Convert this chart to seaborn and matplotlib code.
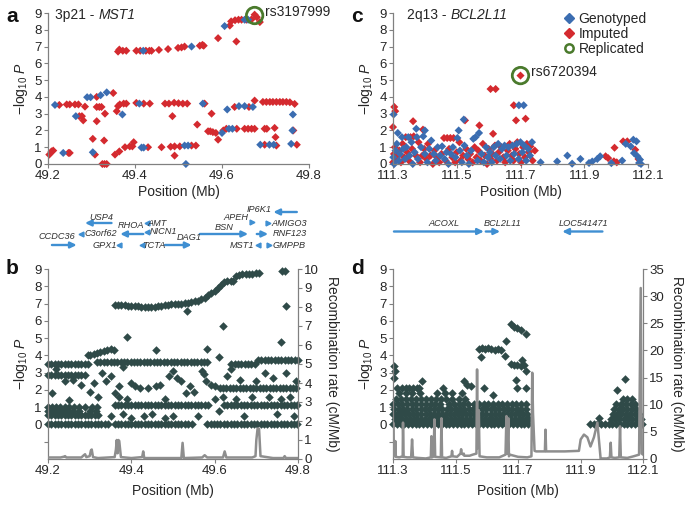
import matplotlib
matplotlib.use('Agg')
import matplotlib.pyplot as plt
import seaborn as sns
import pandas as pd
from matplotlib.lines import Line2D

# ---------------- DATA ----------------
# Panel a (3p21 - MST1): (position Mb, -log10 P)
a_imputed = [(49.203,0.56),(49.208,0.75),(49.212,0.80),(49.247,0.66),(49.250,0.66),
    (49.226,3.52),(49.243,3.55),(49.250,3.55),(49.262,3.55),(49.270,3.55),(49.285,3.42),
    (49.272,2.85),(49.278,2.85),(49.281,2.60),(49.312,4.00),(49.350,4.23),
    (49.312,3.40),(49.318,3.40),(49.323,3.40),(49.312,2.55),(49.331,3.00),(49.358,3.15),
    (49.303,1.50),(49.308,0.56),(49.329,1.40),(49.325,0.00),(49.330,0.00),(49.335,0.00),
    (49.354,0.56),(49.364,0.75),(49.377,1.00),(49.388,1.05),(49.394,1.05),(49.397,1.30),
    (49.430,1.00),(49.461,1.00),(49.482,1.03),(49.491,1.05),(49.503,1.05),(49.530,1.10),
    (49.540,1.10),(49.491,0.50),
    (49.361,3.45),(49.365,3.55),(49.374,3.60),(49.380,3.60),(49.403,3.64),(49.420,3.60),
    (49.434,3.60),(49.469,3.60),(49.478,3.60),(49.490,3.65),(49.500,3.62),(49.510,3.60),
    (49.520,3.60),(49.560,3.60),(49.576,3.00),(49.486,2.85),
    (49.361,6.70),(49.364,6.82),(49.372,6.75),(49.380,6.75),(49.403,6.75),(49.412,6.75),
    (49.425,6.75),(49.433,6.75),(49.438,6.75),(49.455,6.80),(49.476,6.85),(49.499,6.92),
    (49.507,6.95),(49.514,7.00),(49.549,7.05),(49.555,7.10),(49.558,7.05),
    (49.591,7.50),(49.633,7.30),
    (49.618,8.25),(49.621,8.50),(49.630,8.57),(49.638,8.60),(49.645,8.60),(49.656,8.60),
    (49.668,8.62),(49.675,8.90),(49.680,8.75),(49.687,8.46),
    (49.543,2.35),(49.568,1.95),(49.573,1.95),(49.579,1.90),(49.586,1.85),(49.591,1.45),
    (49.603,2.00),(49.610,2.10),(49.634,2.10),(49.652,2.10),(49.660,2.10),(49.668,2.10),
    (49.675,2.10),(49.698,2.10),(49.703,2.10),(49.721,2.15),(49.723,1.60),(49.764,2.00),
    (49.629,3.40),(49.662,3.40),(49.675,3.78),(49.694,3.70),(49.702,3.70),(49.710,3.70),
    (49.717,3.70),(49.725,3.70),(49.733,3.70),(49.740,3.70),(49.748,3.70),(49.756,3.68),
    (49.767,3.58),(49.698,1.15),(49.725,1.10),(49.772,1.15)]
a_genotyped = [(49.235,0.66),(49.216,3.52),(49.264,2.85),(49.290,3.98),(49.298,3.98),
    (49.321,4.10),(49.335,4.27),(49.371,2.95),(49.303,0.70),(49.415,0.98),(49.420,0.98),
    (49.514,1.10),(49.522,1.10),(49.517,0.00),(49.410,3.60),(49.556,3.60),(49.419,6.75),
    (49.530,7.00),(49.606,8.22),(49.652,8.60),(49.660,8.60),(49.600,1.85),(49.616,2.10),
    (49.624,2.10),(49.612,3.25),(49.639,3.45),(49.652,3.45),(49.671,3.40),(49.763,2.95),
    (49.762,2.00),(49.688,1.15),(49.709,1.15),(49.719,1.15),(49.759,1.20)]
a_replicated = (49.675, 8.85)

# Panel c (2q13 - BCL2L11)
c_imputed = [(111.304,3.40),(111.307,3.15),(111.300,2.20),(111.363,2.55),(111.394,2.05),
    (111.606,4.47),(111.622,4.47),(111.679,3.50),(111.686,2.60),(111.716,2.70),(111.614,1.80),
    (111.571,2.30),(111.526,2.60),(111.731,1.05),(111.967,0.46),(111.975,0.35),(111.993,0.16),
    (111.995,0.97),(112.002,0.10),(112.022,1.35),(112.035,1.35),(112.060,0.85),(112.070,0.30),
    (111.300,0.10),(111.303,0.60),(111.306,1.00),(111.310,0.30),(111.315,0.50),(111.320,0.80),
    (111.325,0.10),(111.330,1.20),(111.335,0.40),(111.340,1.60),(111.345,0.70),(111.350,0.20),
    (111.355,1.60),(111.360,0.90),(111.365,1.65),(111.372,0.50),(111.380,1.30),(111.385,0.10),
    (111.392,0.50),(111.398,0.90),(111.405,0.30),(111.410,1.20),(111.418,0.50),(111.425,0.00),
    (111.430,0.80),(111.438,0.40),(111.445,0.10),(111.452,0.60),(111.460,1.55),(111.465,0.20),
    (111.470,1.55),(111.476,0.90),(111.480,1.55),(111.486,0.40),(111.490,1.55),(111.495,0.10),
    (111.500,0.70),(111.508,1.30),(111.512,0.20),(111.520,0.50),(111.530,0.90),(111.536,0.30),
    (111.542,0.60),(111.550,0.10),(111.556,1.00),(111.562,0.40),(111.568,0.80),(111.575,0.20),
    (111.582,1.20),(111.588,0.50),(111.595,0.00),(111.600,0.90),(111.606,0.30),(111.612,0.60),
    (111.620,1.10),(111.626,0.20),(111.632,0.70),(111.640,1.00),(111.646,0.40),(111.652,0.10),
    (111.660,0.80),(111.666,1.20),(111.672,0.50),(111.678,0.20),(111.684,0.90),(111.690,1.30),
    (111.696,0.60),(111.702,0.10),(111.708,1.00),(111.714,0.40),(111.720,1.20),(111.726,0.70),
    (111.738,0.20),(111.745,0.80),(111.700,5.27)]
c_genotyped = [(111.302,2.95),(111.315,1.85),(111.373,2.10),(111.400,2.00),(111.506,2.00),
    (111.522,2.65),(111.559,1.60),(111.570,1.85),(111.695,3.50),(111.710,3.50),(111.763,0.10),
    (111.815,0.15),(111.847,0.50),(111.862,0.02),(111.888,0.30),(111.915,0.06),(111.925,0.15),
    (111.941,0.30),(111.950,0.46),(111.985,0.05),(112.019,0.20),(112.030,1.20),(112.046,1.05),
    (112.054,1.45),(112.064,1.35),(112.056,0.65),(112.067,0.46),(112.072,0.06),(112.075,0.26),
    (112.078,0.00),
    (111.301,0.40),(111.304,0.00),(111.308,0.80),(111.312,1.20),(111.318,0.20),(111.322,0.60),
    (111.328,1.60),(111.332,0.90),(111.338,0.30),(111.342,1.00),(111.348,1.60),(111.352,0.50),
    (111.358,1.30),(111.362,0.00),(111.368,0.70),(111.375,1.60),(111.378,0.30),(111.388,1.00),
    (111.395,1.65),(111.400,0.60),(111.408,0.10),(111.414,0.90),(111.420,1.40),(111.428,0.60),
    (111.434,0.20),(111.440,1.00),(111.448,0.50),(111.454,1.05),(111.462,0.30),(111.468,0.70),
    (111.474,0.00),(111.482,0.60),(111.488,1.00),(111.496,0.40),(111.502,1.55),(111.510,0.80),
    (111.516,0.10),(111.524,1.10),(111.532,0.50),(111.538,0.00),(111.545,0.80),(111.552,1.50),
    (111.565,0.20),(111.578,0.60),(111.585,0.10),(111.592,1.00),(111.598,0.40),(111.604,0.70),
    (111.610,0.10),(111.616,1.00),(111.622,0.50),(111.630,1.20),(111.636,0.30),(111.642,0.90),
    (111.650,1.10),(111.656,0.50),(111.662,1.00),(111.668,0.20),(111.675,1.10),(111.680,0.60),
    (111.688,1.20),(111.694,0.30),(111.700,1.30),(111.706,0.70),(111.712,1.10),(111.718,0.20),
    (111.724,0.90),(111.730,0.50),(111.736,1.30)]
c_replicated = (111.700, 5.27)

# Panel b (all SNPs, 3p21): rows of SNPs at near-constant -log10 P, plus scattered SNPs
b_row_000 = [49.200,49.208,49.216,49.224,49.232,49.240,49.248,49.256,49.264,49.272,49.280,
    49.288,49.296,49.304,49.312,49.320,49.328,49.336,49.344,49.360,49.368,49.376,49.384,
    49.392,49.400,49.408,49.416,49.424,49.432,49.440,49.448,49.456,49.464,49.472,49.480,
    49.488,49.496,49.504,49.512,49.520,49.528,49.536,49.545,49.582,49.590,49.598,49.606,
    49.614,49.622,49.630,49.638,49.646,49.654,49.662,49.670,49.678,49.686,49.694,49.702,
    49.710,49.718,49.726,49.734,49.742,49.750,49.758,49.766,49.774,49.782,49.790,49.798]
b_row_055 = [49.200,49.208,49.216,49.224,49.232,49.240,49.248,49.256,49.264,49.272,49.280,
    49.288,49.296,49.304,49.312,49.320]
b_row_080 = [49.200,49.212,49.224,49.236,49.248,49.260,49.275,49.300,49.315]
b_row_100 = [49.200,49.210,49.220,49.230,49.240,49.250,49.262,49.275,49.290,49.305,49.318]
b_row_110 = [49.360,49.368,49.376,49.384,49.392,49.400,49.408,49.416,49.424,49.432,49.440,
    49.448,49.456,49.464,49.472,49.480,49.488,49.496,49.504,49.512,49.520,49.528,49.536,
    49.544,49.552,49.560,49.568,49.576,49.584]
b_row_115 = [49.622,49.630,49.638,49.646,49.654,49.662,49.670,49.678,49.686,49.694,49.702,
    49.710,49.718,49.726,49.734,49.742,49.750,49.758,49.766,49.774,49.782,49.790,49.798]
b_row_215 = [49.612,49.620,49.628,49.636,49.644,49.652,49.660,49.668,49.676,49.684,49.692,
    49.700,49.708,49.716,49.724,49.732,49.740,49.748,49.756,49.764,49.772,49.780,49.788,49.796]
b_row_290 = [49.200,49.208,49.216,49.224,49.232,49.240,49.248,49.256,49.264,49.272,49.280,49.288]
b_row_355 = [49.200,49.208,49.216,49.224,49.232,49.240,49.248,49.256,49.264,49.272,49.280,
    49.288,49.296]
b_row_365 = [49.318,49.326,49.334,49.342,49.350,49.358,49.366,49.374,49.382,49.390,49.398,
    49.406,49.414,49.422,49.430,49.438,49.446,49.454,49.462,49.470,49.478,49.486,49.494,
    49.502,49.510,49.518,49.526,49.534,49.542,49.550,49.558,49.566,49.574,49.582]
b_row_350 = [49.640,49.648,49.656,49.664,49.672,49.680,49.688,49.696]
b_row_372 = [49.704,49.712,49.720,49.728,49.736,49.744,49.752,49.760,49.768,49.776,49.784,
    49.792,49.800]
b_curve = [(49.295,4.00),(49.302,4.05),(49.310,4.10),(49.318,4.15),(49.326,4.20),(49.334,4.28),
    (49.342,4.33),(49.350,4.35),(49.358,4.30),
    (49.360,6.90),(49.368,6.90),(49.376,6.90),(49.384,6.90),(49.392,6.88),(49.400,6.86),
    (49.408,6.85),(49.416,6.83),(49.424,6.80),(49.432,6.78),(49.440,6.78),(49.448,6.80),
    (49.456,6.82),(49.464,6.85),(49.472,6.87),(49.480,6.90),(49.488,6.92),(49.496,6.95),
    (49.504,6.97),(49.512,7.00),(49.520,7.00),(49.528,7.03),(49.536,7.05),(49.544,7.08),
    (49.552,7.12),(49.560,7.17),(49.568,7.25),(49.576,7.35),(49.584,7.48),(49.592,7.60),
    (49.600,7.75),(49.608,7.92),(49.616,8.10),(49.622,8.22),(49.630,8.28),(49.638,8.30),
    (49.645,8.30),(49.650,8.60),(49.658,8.65),(49.666,8.70),(49.674,8.72),(49.682,8.72),
    (49.690,8.73),(49.698,8.75),(49.706,8.78)]
b_scatter = [(49.390,5.05),(49.460,4.30),(49.581,4.35),(49.610,3.90),(49.621,5.70),
    (49.533,6.55),(49.761,8.88),(49.769,8.88),(49.771,6.85),(49.758,4.80),
    (49.210,1.80),(49.250,1.40),(49.220,3.20),(49.240,2.50),(49.260,2.60),(49.280,2.30),
    (49.300,1.90),(49.310,2.40),(49.320,1.60),(49.330,3.00),(49.340,2.50),(49.350,2.80),
    (49.360,1.80),(49.370,2.20),(49.380,3.30),(49.400,2.40),(49.410,2.20),(49.420,2.10),
    (49.440,2.10),(49.460,2.20),(49.470,2.30),(49.480,1.50),(49.490,2.80),(49.500,3.10),
    (49.510,2.70),(49.520,2.50),(49.530,1.80),(49.540,2.20),(49.550,1.90),(49.560,0.50),
    (49.570,3.10),(49.575,2.90),(49.580,2.50),(49.590,2.30),(49.600,2.20),(49.600,1.50),
    (49.610,0.80),(49.620,1.60),(49.630,2.80),(49.640,3.20),(49.650,1.50),(49.660,2.60),
    (49.670,0.50),(49.690,1.60),(49.700,2.50),(49.720,3.00),(49.730,1.60),(49.740,2.70),
    (49.750,0.60),(49.760,1.50),(49.770,3.00),(49.780,1.60),(49.790,0.50),(49.795,2.50),
    (49.350,0.50),(49.380,0.60),(49.400,0.40),(49.430,0.50),(49.450,0.60),(49.480,0.40),
    (49.500,0.50),(49.370,1.60),(49.390,1.50)]
b_rec_x = [49.200,49.230,49.238,49.241,49.244,49.280,49.286,49.289,49.292,49.300,49.303,
    49.305,49.308,49.320,49.360,49.363,49.365,49.367,49.369,49.371,49.375,49.400,49.426,
    49.4285,49.431,49.480,49.520,49.523,49.526,49.570,49.576,49.582,49.620,49.624,49.628,
    49.690,49.698,49.700,49.703,49.7065,49.710,49.740,49.765,49.768,49.771,49.800]
b_rec_y = [0.08,0.08,0.12,0.15,0.08,0.08,0.20,0.25,0.10,0.15,0.45,0.50,0.10,0.05,0.10,
    0.50,1.00,0.30,1.00,0.95,0.10,0.05,0.10,0.40,0.05,0.05,0.05,0.85,0.05,0.08,0.20,0.08,
    0.08,0.40,0.08,0.08,0.15,1.00,1.60,1.60,0.15,0.05,0.05,0.15,0.05,0.05]

# Panel d (all SNPs, 2q13)
d_row_000 = [111.300,111.312,111.324,111.336,111.348,111.360,111.372,111.384,111.396,111.408,
    111.420,111.432,111.444,111.456,111.468,111.480,111.492,111.504,111.516,111.528,111.540,
    111.552,111.564,111.576,111.588,111.600,111.612,111.624,111.636,111.648,111.660,111.672,
    111.684,111.696,111.708,111.720,111.732,111.930,111.942,111.954,111.966,111.978,111.990,
    112.002,112.014,112.026,112.038,112.050,112.062,112.074,112.086,112.098]
d_row_030 = [111.306,111.318,111.330,111.342,111.354,111.366,111.378,111.390,111.402,111.414,
    111.426,111.438,111.450,111.462,111.474,111.486,111.498,111.510,111.522,111.534,111.546,
    111.558,111.570,111.582,111.594,111.606,111.618,111.630,111.642,111.654,111.666,111.678,
    111.690,111.702,111.714,111.726,111.736,111.996,112.010,112.024,112.038,112.052,112.066,
    112.080,112.094]
d_row_060 = [111.300,111.313,111.326,111.339,111.352,111.365,111.378,111.391,111.404,111.417,
    111.430,111.443,111.456,111.469,111.482,111.495,111.508,111.521,111.534,111.547,111.560,
    111.573,111.586,111.599,111.612,111.625,111.638,111.651,111.664,111.677,111.690,111.703,
    111.716,111.729,112.003,112.017,112.031,112.045,112.059,112.073,112.087]
d_row_090 = [111.304,111.318,111.332,111.346,111.360,111.374,111.388,111.402,111.416,111.430,
    111.444,111.458,111.472,111.486,111.500,111.514,111.528,111.542,111.556,111.570,111.584,
    111.598,111.612,111.626,111.640,111.654,111.668,111.682,111.696,111.710,111.724,112.008,
    112.022,112.036,112.050,112.064,112.078]
d_row_120 = [111.300,111.315,111.330,111.345,111.360,111.375,111.390,111.405,111.420,111.435,
    111.450,111.480,111.495,111.510,111.525,111.540,111.560,111.575,111.590,111.605,111.620,
    111.635,111.650,111.665,111.680,111.695,111.710,111.725,112.015,112.030,112.045,112.060,
    112.075]
d_row_150 = [111.308,111.325,111.342,111.358,111.372,111.388,111.404,111.420,111.436,111.455,
    111.470,111.490,111.510,111.530,112.035,112.050,112.065]
d_row_180 = [111.320,111.340,111.360,111.385,111.440,111.465,111.489,111.520]
d_row_210 = [111.313,111.329,111.340,111.352,111.364,111.376,111.382,111.460,111.697,111.724,
    111.590]
d_scatter = [(111.304,3.38),(111.307,3.09),(111.302,2.70),(111.394,2.50),(111.526,2.50),
    (111.537,2.30),(111.548,2.20),(111.620,1.70),(111.575,4.35),(111.585,4.40),(111.595,4.38),
    (111.605,4.40),(111.615,4.35),(111.625,4.33),(111.635,4.35),(111.644,4.30),(111.580,3.90),
    (111.658,3.95),(111.660,4.83),(111.676,5.80),(111.687,5.67),(111.697,5.57),(111.708,5.47),
    (111.724,5.24),(111.676,3.50),(111.686,3.45),(111.697,3.42),(111.708,3.40),(111.719,3.45),
    (111.713,3.76),(111.724,3.09),(111.694,2.60),(111.959,0.39),(112.018,2.00),(112.043,2.61)]
d_rec_x = [111.300,111.3005,111.302,111.306,111.3075,111.309,111.320,111.331,111.332,111.334,
    111.345,111.358,111.361,111.364,111.380,111.405,111.421,111.423,111.425,111.430,111.4325,
    111.435,111.453,111.455,111.457,111.470,111.487,111.489,111.491,111.505,111.516,111.518,
    111.520,111.525,111.5265,111.528,111.545,111.555,111.567,111.569,111.571,111.5745,111.577,
    111.600,111.640,111.660,111.663,111.666,111.669,111.671,111.674,111.700,111.730,111.743,
    111.7455,111.748,111.753,111.758,111.7615,111.786,111.788,111.790,111.800,111.850,111.895,
    111.9005,111.911,111.922,111.932,111.943,111.954,111.9645,111.966,111.985,111.994,111.9966,
    111.999,112.010,112.024,112.0265,112.029,112.050,112.070,112.0874,112.0927,112.096,112.100]
d_rec_y = [0.5,6.7,0.8,0.5,3.3,0.4,0.3,0.5,6.7,0.4,0.3,0.3,3.6,0.3,0.2,0.1,0.3,4.2,0.3,0.5,
    7.3,0.4,0.3,7.5,0.3,0.2,0.5,1.5,0.5,0.4,1.0,1.8,1.0,0.8,1.0,0.6,0.6,0.8,1.0,16.5,2.0,9.0,
    0.5,0.3,0.3,0.8,7.9,1.0,7.5,0.5,0.8,0.4,0.3,0.5,15.9,8.5,1.5,1.4,1.4,1.4,5.4,1.4,1.4,1.4,
    1.5,3.6,4.5,4.0,2.3,4.0,6.7,0.0,0.1,0.1,0.3,3.0,0.3,0.2,0.3,6.0,0.3,0.2,0.5,0.8,31.5,1.0,0.8]

# Gene tracks: (name, start, end, row) for arrows; (name, pos, row, direction) for short genes
a_gene_arrows = [('CCDC36',49.209,49.266,245),('USP4',49.346,49.285,223),('RHOA',49.419,49.366,234),
    ('DAG1',49.469,49.530,245),('BSN',49.549,49.660,234),('IP6K1',49.772,49.718,212),
    ('RNF123',49.680,49.706,234)]
a_gene_short = [('C3orf62',49.277,234,'<'),('GPX1',49.364,245,'<'),('AMT',49.427,223,'<'),
    ('NICN1',49.427,232,'<'),('TCTA',49.415,245,'<'),('APEH',49.668,222,'>'),
    ('MST1',49.683,245,'<'),('AMIGO3',49.706,223,'>'),('GMPPB',49.709,245,'>')]
a_gene_labels = [('IP6K1',49.7135,209,'right'),('USP4',49.323,217.5,'center'),
    ('APEH',49.6316,217.5,'center'),('AMT',49.4296,223,'left'),('RHOA',49.390,225.5,'center'),
    ('AMIGO3',49.7135,223,'left'),('NICN1',49.434,232,'left'),('BSN',49.606,228,'center'),
    ('CCDC36',49.220,236.5,'center'),('C3orf62',49.285,234,'left'),('DAG1',49.524,237.5,'center'),
    ('RNF123',49.717,234,'left'),('GPX1',49.358,245,'right'),('TCTA',49.417,245,'left'),
    ('MST1',49.675,245,'right'),('GMPPB',49.717,245,'left')]
c_gene_arrows = [('ACOXL',111.303,111.585,231.5),('BCL2L11',111.591,111.636,231.5),
    ('LOC541471',111.957,111.831,231.5)]
c_gene_labels = [('ACOXL',111.46,224,'center'),('BCL2L11',111.643,224,'center'),
    ('LOC541471',111.899,224,'center')]

a_xticks = [49.2, 49.4, 49.6, 49.8]
c_xticks = [111.3, 111.5, 111.7, 111.9, 112.1]

# ---------------- STYLE ----------------
sns.set_style('ticks')
plt.rcParams['font.family'] = ['Liberation Sans', 'DejaVu Sans']
plt.rcParams['mathtext.fontset'] = 'custom'
plt.rcParams['mathtext.rm'] = 'Liberation Sans'
plt.rcParams['mathtext.it'] = 'Liberation Sans:italic'
plt.rcParams['mathtext.bf'] = 'Liberation Sans:bold'

RED = '#d42a2f'
BLUE = '#3b6db1'
GREEN = '#4a7a2c'
DARK = '#2f4a48'
GRAY_LINE = '#8e8e8e'
GENE = '#3f8fd2'
SPINE = '#808080'
TXT = '#262626'
FS = 9.5

W, H = 688, 507
fig = plt.figure(figsize=(W / 100, H / 100), dpi=100)
renderer = fig.canvas.get_renderer()


def rect(l, t, r, b):
    return [l / W, 1 - b / H, (r - l) / W, (b - t) / H]


def style(ax):
    for s in ['top', 'right']:
        ax.spines[s].set_visible(False)
    for s in ['left', 'bottom']:
        ax.spines[s].set_color(SPINE)
        ax.spines[s].set_linewidth(0.9)
    ax.tick_params(length=3, width=0.8, color=SPINE, labelsize=FS, labelcolor=TXT, pad=1.5)


def pts_df(pairs, kind):
    return pd.DataFrame({'pos': [p[0] for p in pairs], 'logp': [p[1] for p in pairs], 'type': kind})


YLAB = r'$-\log_{10}\,P$'

# ---------------- Panel a ----------------
ax_a = fig.add_axes(rect(48, 13, 309, 164))
dfa = pd.concat([pts_df(a_imputed, 'Imputed'), pts_df(a_genotyped, 'Genotyped')], ignore_index=True)
sns.scatterplot(data=dfa, x='pos', y='logp', hue='type', palette={'Imputed': RED, 'Genotyped': BLUE},
                marker='D', s=17, linewidth=0, legend=False, ax=ax_a, clip_on=False)
ax_a.scatter([a_replicated[0]], [a_replicated[1]], s=140, facecolors='none', edgecolors=GREEN,
             linewidths=2, clip_on=False, zorder=5)
ax_a.set_xlim(49.2, 49.8)
ax_a.set_ylim(0, 9)
ax_a.set_xticks(a_xticks)
ax_a.set_xticklabels([f'{v:.1f}' for v in a_xticks])
ax_a.set_yticks(range(0, 10))
style(ax_a)
ax_a.set_xlabel('Position (Mb)', fontsize=FS + 0.5, color=TXT, labelpad=2)
ax_a.set_ylabel(YLAB, fontsize=FS + 0.5, color=TXT, labelpad=3)

# ---------------- Panel c ----------------
ax_c = fig.add_axes(rect(393, 13, 648, 164))
dfc = pd.concat([pts_df(c_imputed, 'Imputed'), pts_df(c_genotyped, 'Genotyped')], ignore_index=True)
sns.scatterplot(data=dfc, x='pos', y='logp', hue='type', palette={'Imputed': RED, 'Genotyped': BLUE},
                marker='D', s=17, linewidth=0, legend=False, ax=ax_c, clip_on=False)
ax_c.scatter([c_replicated[0]], [c_replicated[1]], s=140, facecolors='none', edgecolors=GREEN,
             linewidths=2, clip_on=False, zorder=5)
ax_c.set_xlim(111.3, 112.1)
ax_c.set_ylim(0, 9)
ax_c.set_xticks(c_xticks)
ax_c.set_xticklabels([f'{v:.1f}' for v in c_xticks])
ax_c.set_yticks(range(0, 10))
style(ax_c)
ax_c.set_xlabel('Position (Mb)', fontsize=FS + 0.5, color=TXT, labelpad=2)
ax_c.set_ylabel(YLAB, fontsize=FS + 0.5, color=TXT, labelpad=3)
handles = [Line2D([], [], ls='', marker='D', ms=5, color=BLUE, label='Genotyped'),
           Line2D([], [], ls='', marker='D', ms=5, color=RED, label='Imputed'),
           Line2D([], [], ls='', marker='o', ms=6, mfc='none', mec=GREEN, mew=1.8, label='Replicated')]
leg = ax_c.legend(handles=handles, loc='upper right', bbox_to_anchor=(1.0, 1.015), frameon=False,
                  fontsize=FS + 0.5, labelspacing=0.05, handletextpad=0.2, handlelength=1.0,
                  borderpad=0.1, borderaxespad=0)
for t in leg.get_texts():
    t.set_color(TXT)


# ---------------- Panel b ----------------
def all_snps(rows, scatter):
    xs, ys = [], []
    for lvl, row in rows:
        xs += row
        ys += [lvl] * len(row)
    xs += [p[0] for p in scatter]
    ys += [p[1] for p in scatter]
    return pd.DataFrame({'pos': xs, 'logp': ys})


def rec_axis(ax, x, y, top, ticks):
    ax2 = ax.twinx()
    sns.lineplot(x=x, y=y, color=GRAY_LINE, lw=1.8, estimator=None, sort=False, ax=ax2)
    ax2.set_ylim(0, top)
    ax2.set_yticks(ticks)
    for s in ['top', 'left', 'bottom']:
        ax2.spines[s].set_visible(False)
    ax2.spines['right'].set_color(SPINE)
    ax2.spines['right'].set_linewidth(0.9)
    ax2.tick_params(length=3, width=0.8, color=SPINE, labelsize=FS, labelcolor=TXT, pad=1.5)
    ax2.set_ylabel('Recombination rate (cM/Mb)', rotation=270, va='bottom', fontsize=FS + 0.5,
                   color=TXT, labelpad=4)
    return ax2


ax_b = fig.add_axes(rect(48, 269, 298, 459))
dfb = all_snps([(0.0, b_row_000), (0.55, b_row_055), (0.8, b_row_080), (1.03, b_row_100),
                (1.1, b_row_110), (1.15, b_row_115), (2.13, b_row_215), (2.88, b_row_290),
                (3.52, b_row_355), (3.64, b_row_365), (3.48, b_row_350), (3.72, b_row_372)],
               b_curve + b_scatter)
sns.scatterplot(data=dfb, x='pos', y='logp', color=DARK, marker='D', s=19, linewidth=0,
                ax=ax_b, clip_on=False)
ax_b.set_xlim(49.2, 49.8)
ax_b.set_ylim(-2, 9)
ax_b.set_yticks(range(-1, 10))
ax_b.set_yticklabels([''] + [str(i) for i in range(10)])
ax_b.set_xticks(a_xticks)
ax_b.set_xticklabels([f'{v:.1f}' for v in a_xticks])
style(ax_b)
ax_b.set_xlabel('Position (Mb)', fontsize=FS + 0.5, color=TXT, labelpad=5)
ax_b.set_ylabel(YLAB, fontsize=FS + 0.5, color=TXT, labelpad=3)
rec_axis(ax_b, b_rec_x, b_rec_y, 10, range(0, 11))

# ---------------- Panel d ----------------
ax_d = fig.add_axes(rect(393, 269, 643, 459))
dfd = all_snps([(0.0, d_row_000), (0.3, d_row_030), (0.6, d_row_060), (0.9, d_row_090),
                (1.2, d_row_120), (1.5, d_row_150), (1.8, d_row_180), (2.1, d_row_210)],
               d_scatter)
sns.scatterplot(data=dfd, x='pos', y='logp', color=DARK, marker='D', s=19, linewidth=0,
                ax=ax_d, clip_on=False)
ax_d.set_xlim(111.3, 112.1)
ax_d.set_ylim(-2, 9)
ax_d.set_yticks(range(-1, 10))
ax_d.set_yticklabels([''] + [str(i) for i in range(10)])
ax_d.set_xticks(c_xticks)
ax_d.set_xticklabels([f'{v:.1f}' for v in c_xticks])
style(ax_d)
ax_d.set_xlabel('Position (Mb)', fontsize=FS + 0.5, color=TXT, labelpad=5)
ax_d.set_ylabel(YLAB, fontsize=FS + 0.5, color=TXT, labelpad=3)
rec_axis(ax_d, d_rec_x, d_rec_y, 35, range(0, 36, 5))


# ---------------- Gene tracks ----------------
def gene_track(r, xlim, arrows, shorts, labels):
    g = fig.add_axes(r)
    g.set_xlim(*xlim)
    g.set_ylim(255, 200)
    g.axis('off')
    for name, s, e, row in arrows:
        g.annotate('', xy=(e, row), xytext=(s, row),
                   arrowprops=dict(arrowstyle='-|>,head_length=0.45,head_width=0.22', color=GENE,
                                   lw=1.7, shrinkA=0, shrinkB=0, mutation_scale=8))
    for name, x, row, d in shorts:
        g.plot([x], [row], marker=d, ms=3.5, color=GENE, ls='')
    for name, x, y, ha in labels:
        g.text(x, y, name, ha=ha, va='center', fontsize=6.6, style='italic', color='#303030')
    return g


gene_track(rect(48, 200, 309, 255), (49.2, 49.8), a_gene_arrows, a_gene_short, a_gene_labels)
gene_track(rect(393, 200, 648, 255), (111.3, 112.1), c_gene_arrows, [], c_gene_labels)


# ---------------- Annotations ----------------
def ftext(px, py, s, **kw):
    return fig.text(px / W, 1 - py / H, s, **kw)


def title(px, py, plain, italic):
    t = ftext(px, py, plain, fontsize=FS + 0.5, ha='left', va='center', color=TXT)
    w = t.get_window_extent(renderer=renderer).width
    ftext(px + w, py, italic, fontsize=FS + 0.5, ha='left', va='center', color=TXT, style='italic')


ftext(12, 16, 'a', fontsize=15, fontweight='bold', ha='center', va='center', color='#111111')
ftext(357, 16, 'c', fontsize=15, fontweight='bold', ha='center', va='center', color='#111111')
ftext(12, 268, 'b', fontsize=15, fontweight='bold', ha='center', va='center', color='#111111')
ftext(357, 268, 'd', fontsize=15, fontweight='bold', ha='center', va='center', color='#111111')
title(55, 15, '3p21 - ', 'MST1')
title(407, 15, '2q13 - ', 'BCL2L11')
ftext(265, 12, 'rs3197999', fontsize=FS + 0.5, ha='left', va='center', color=TXT)
ftext(531, 72, 'rs6720394', fontsize=FS + 0.5, ha='left', va='center', color=TXT)

fig.savefig('out.png', dpi=100)
